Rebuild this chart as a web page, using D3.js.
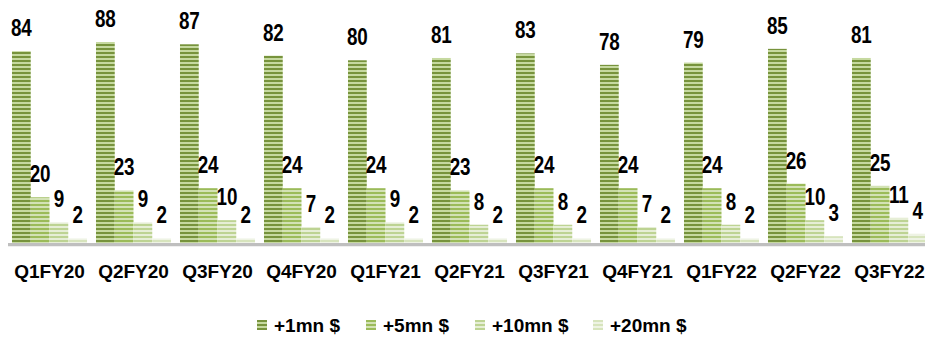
<!DOCTYPE html>
<html>
<head>
<meta charset="utf-8">
<script src="https://cdn.jsdelivr.net/npm/d3@7"></script>
<style>
  html, body { margin: 0; padding: 0; background: #fff; }
  svg { display: block; }
</style>
</head>
<body>
<svg id="chart" width="925" height="338"></svg>
<script>
// Quarterly counts by ticket size
const quarters = ["Q1FY20","Q2FY20","Q3FY20","Q4FY20","Q1FY21","Q2FY21","Q3FY21","Q4FY21","Q1FY22","Q2FY22","Q3FY22"];
const seriesNames = ["+1mn $","+5mn $","+10mn $","+20mn $"];
const plus1mn  = [84, 88, 87, 82, 80, 81, 83, 78, 79, 85, 81];
const plus5mn  = [20, 23, 24, 24, 24, 23, 24, 24, 24, 26, 25];
const plus10mn = [9, 9, 10, 7, 9, 8, 8, 7, 8, 10, 11];
const plus20mn = [2, 2, 2, 2, 2, 2, 2, 2, 2, 3, 4];
const seriesValues = [plus1mn, plus5mn, plus10mn, plus20mn];

// striped fills: [dark stripe, light stripe]
const stripeColors = [
  ["#77933c", "#c6d9a0"],
  ["#9bbb59", "#d3e2b5"],
  ["#bdd393", "#e6eed6"],
  ["#d7e4bd", "#eef3e4"]
];

const svg = d3.select("#chart");
const defs = svg.append("defs");
stripeColors.forEach((c, i) => {
  const p = defs.append("pattern")
    .attr("id", "stripe" + i)
    .attr("patternUnits", "userSpaceOnUse")
    .attr("width", 8).attr("height", 4);
  p.append("rect").attr("width", 8).attr("height", 4).attr("fill", c[1]);
  p.append("rect").attr("width", 8).attr("height", 2).attr("fill", c[0]);
});

const baseY = 243;
const x0 = d3.scaleBand().domain(quarters).range([7.5, 931.5]).paddingInner(0.107).paddingOuter(0.0535);
const x1 = d3.scaleBand().domain(seriesNames).range([0, x0.bandwidth()]);
const y = d3.scaleLinear().domain([0, 88]).range([baseY, 42]);

const groups = svg.append("g").selectAll("g")
  .data(quarters)
  .join("g")
  .attr("transform", d => `translate(${x0(d)},0)`);

groups.selectAll("rect")
  .data((q, qi) => seriesNames.map((s, si) => ({ s, si, v: seriesValues[si][qi] })))
  .join("rect")
  .attr("x", d => x1(d.s))
  .attr("width", x1.bandwidth())
  .attr("y", d => y(d.v))
  .attr("height", d => baseY - y(d.v))
  .attr("fill", d => `url(#stripe${d.si})`);

// value labels, horizontally condensed
groups.selectAll("text")
  .data((q, qi) => seriesNames.map((s, si) => ({ s, si, v: seriesValues[si][qi] })))
  .join("text")
  .attr("transform", d => `translate(${x1(d.s) + x1.bandwidth() / 2},${y(d.v) - 15}) scale(0.82,1)`)
  .attr("text-anchor", "middle")
  .attr("font-family", "'Liberation Sans', Arial, sans-serif")
  .attr("font-weight", "bold")
  .attr("font-size", 23)
  .attr("fill", "#000")
  .text(d => d.v);

// baseline
svg.append("line")
  .attr("x1", 8).attr("x2", 925)
  .attr("y1", 244.6).attr("y2", 244.6)
  .attr("stroke", "#bfbfbf").attr("stroke-width", 3.2);

// category axis labels
const xAxis = d3.axisBottom(x0).tickSize(0).tickPadding(0);
const axisG = svg.append("g").attr("transform", "translate(0,264)").call(xAxis);
axisG.select(".domain").remove();
axisG.selectAll("text")
  .attr("font-family", "'Liberation Sans', Arial, sans-serif")
  .attr("font-weight", "bold")
  .attr("font-size", 19)
  .attr("fill", "#000")
  .attr("dy", "0.71em");

// legend
const legendX = [257, 366, 475, 593];
const legend = svg.append("g").selectAll("g")
  .data(seriesNames)
  .join("g")
  .attr("transform", (d, i) => `translate(${legendX[i]},320)`);
legend.append("rect")
  .attr("width", 10).attr("height", 10)
  .attr("fill", (d, i) => `url(#stripe${i})`);
legend.append("text")
  .attr("x", 17).attr("y", 12)
  .attr("font-family", "'Liberation Sans', Arial, sans-serif")
  .attr("font-weight", "bold")
  .attr("font-size", 19)
  .attr("fill", "#000")
  .text(d => d);
</script>
</body>
</html>
